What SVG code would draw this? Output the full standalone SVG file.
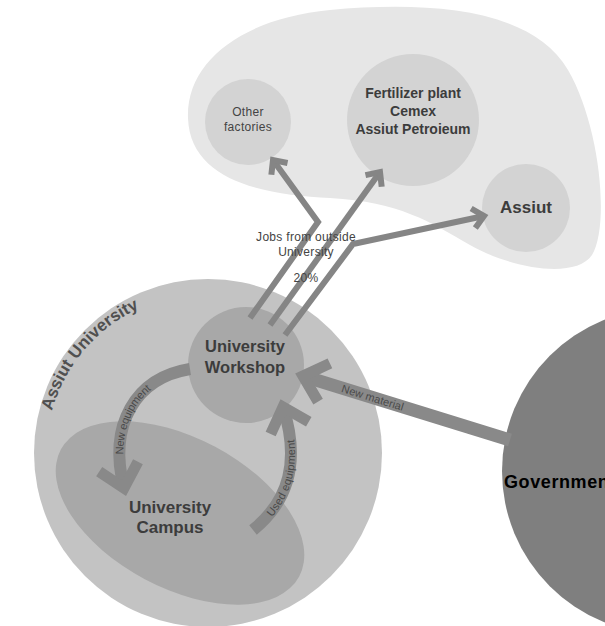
<svg xmlns="http://www.w3.org/2000/svg" width="605" height="626" viewBox="0 0 605 626">
<style>
text{font-family:"Liberation Sans",Arial,sans-serif;}
.lbl{fill:#3c3c3c;font-weight:bold;text-anchor:middle;}
.small{fill:#444;font-size:12px;text-anchor:middle;letter-spacing:0.3px;}
.band{fill:none;stroke:#898989;stroke-linecap:butt;}
.thin{fill:none;stroke:#858585;stroke-width:6;stroke-linejoin:miter;}
.bandtxt{fill:#4a4a4a;font-size:11px;}
</style>
<defs>
<marker id="chevBig" markerUnits="userSpaceOnUse" markerWidth="60" markerHeight="60" viewBox="-30 -30 60 60" refX="0" refY="0" orient="auto" overflow="visible">
<path d="M-22,-20 L0,0 L-22,20" fill="none" stroke="#898989" stroke-width="11" stroke-linejoin="miter"/>
</marker>
<marker id="chevThin" markerUnits="userSpaceOnUse" markerWidth="40" markerHeight="40" viewBox="-20 -20 40 40" refX="0" refY="0" orient="auto" overflow="visible">
<path d="M-11,-10 L0,0 L-11,10" fill="none" stroke="#858585" stroke-width="6" stroke-linejoin="miter"/>
</marker>
<path id="auArc" d="M 52,411 A 160 160 0 0 1 165,299"/>
<path id="neTxt" d="M 124,488 C 108,425 135,378 190,369"/>
<path id="ueTxt" d="M 253,530 C 290,500 300,460 283,407"/>
<path id="nmTxt" d="M 300,375 L 510,440"/>
</defs>

<g id="industry-area">
<path d="M 188,118 C 186,60 245,18 330,10 C 420,2 530,5 568,70 C 600,125 610,225 592,255 C 575,280 510,268 470,245 C 430,222 400,202 330,198 C 262,195 190,180 188,118 Z" fill="#e6e6e6"/>
</g>

<g id="other-factories">
<circle cx="248" cy="122" r="43" fill="#d3d3d3"/>
<text class="small" x="248" y="115.5" font-size="11">Other</text>
<text class="small" x="248" y="130.5" font-size="11">factories</text>
</g>

<g id="fertilizer-plant">
<circle cx="413" cy="120" r="66" fill="#d3d3d3"/>
<text class="lbl" x="413" y="98" font-size="14">Fertilizer plant</text>
<text class="lbl" x="413" y="116" font-size="14">Cemex</text>
<text class="lbl" x="413" y="134" font-size="14">Assiut Petroieum</text>
</g>

<g id="assiut">
<circle cx="526" cy="208" r="44" fill="#d3d3d3"/>
<text class="lbl" x="526" y="213" font-size="17">Assiut</text>
</g>

<g id="assiut-university">
<circle cx="208" cy="453" r="174" fill="#c3c3c3"/>
<text fill="#505050" font-weight="bold" font-size="17"><textPath href="#auArc">Assiut University</textPath></text>
</g>

<g id="university-campus">
<ellipse cx="180" cy="513" rx="135" ry="75" transform="rotate(28 180 513)" fill="#a8a8a8"/>
<text class="lbl" x="170" y="513" font-size="17">University</text>
<text class="lbl" x="170" y="533" font-size="17">Campus</text>
</g>

<g id="university-workshop">
<circle cx="246" cy="365" r="58" fill="#a8a8a8"/>
<text class="lbl" x="245" y="352" font-size="16.5">University</text>
<text class="lbl" x="245" y="373" font-size="16.5">Workshop</text>
</g>

<g id="government">
<circle cx="665" cy="471" r="163" fill="#7f7f7f"/>
<text x="504" y="488" font-size="18" font-weight="bold" letter-spacing="0.6" fill="#000">Government</text>
</g>

<g id="connectors">
<path class="thin" d="M 250,318 L 318,222 L 273,160" marker-end="url(#chevThin)"/>
<path class="thin" d="M 270,325 L 380,172" marker-end="url(#chevThin)"/>
<path class="thin" d="M 285,335 L 353,244 L 484,216" marker-end="url(#chevThin)"/>
<path class="band" stroke-width="12" d="M 190,369 C 135,378 108,425 124,488" marker-end="url(#chevBig)"/>
<path class="band" stroke-width="12" d="M 253,530 C 290,500 300,460 283,407" marker-end="url(#chevBig)"/>
<path class="band" stroke-width="13" d="M 510,440 L 303,376" marker-end="url(#chevBig)"/>
<text class="bandtxt" dy="4"><textPath href="#neTxt" startOffset="34">New equipment</textPath></text>
<text class="bandtxt" dy="4"><textPath href="#ueTxt" startOffset="22">Used equipment</textPath></text>
<text class="bandtxt" dy="4"><textPath href="#nmTxt" startOffset="44">New material</textPath></text>
<text class="small" x="306" y="241">Jobs from outside</text>
<text class="small" x="306" y="256">University</text>
<text class="small" x="306" y="282">20%</text>
</g>
</svg>
